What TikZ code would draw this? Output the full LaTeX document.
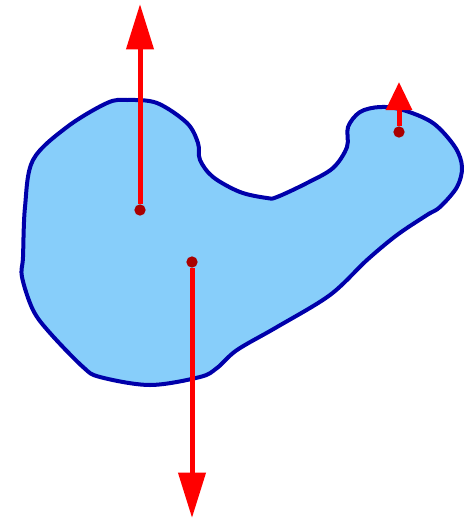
\documentclass[tikz,border=0pt]{standalone}
\usepackage{xcolor}
\usepackage{tikz}
\usetikzlibrary{arrows.meta}
\definecolor{BodyFill}{HTML}{87CEFA}
\definecolor{BodyLine}{HTML}{0000AA}
\definecolor{ForceRed}{HTML}{FF0000}
\definecolor{PointRed}{HTML}{AA0000}
\begin{document}
\begin{tikzpicture}[
  x=0.75pt,y=-0.75pt,
  body/.style={draw=BodyLine,fill=BodyFill,line width=3pt,line join=round},
  pt/.style={circle,fill=PointRed,inner sep=0pt,minimum size=8.5pt},
  force/.style={draw=ForceRed,line width=3.75pt,-{Triangle[length=34pt,width=20pt]}},
  small force/.style={force,-{Triangle[length=21pt,width=19pt]}}
]
\useasboundingbox (0,0) rectangle (474,521);
\draw[body] plot[smooth cycle,tension=0.55] coordinates {
  (33,160) (67,127) (107,103) (127,100) (157,103) (187,123) (198,143)
  (200,160) (213,177) (240,192) (267,198) (277,197) (307,183) (333,168)
  (347,147) (348,127) (360,112) (380,107) (403,110) (433,123) (455,147)
  (462,167) (457,187) (440,207) (427,215) (397,235) (367,260) (330,295)
  (277,327) (237,350) (217,368) (200,377) (150,385) (100,377) (83,367)
  (50,333) (33,310) (22,277) (23,257) (25,207)};
\node[pt] (p1) at (140,210) {};
\node[pt] (p2) at (192,262) {};
\node[pt] (p3) at (399,132) {};
\coordinate (t1) at (140,4);
\coordinate (t2) at (192,518);
\coordinate (t3) at (399,82);
\draw[force] (p1) -- (t1);
\draw[force] (p2) -- (t2);
\draw[small force] (p3) -- (t3);
\end{tikzpicture}
\end{document}
